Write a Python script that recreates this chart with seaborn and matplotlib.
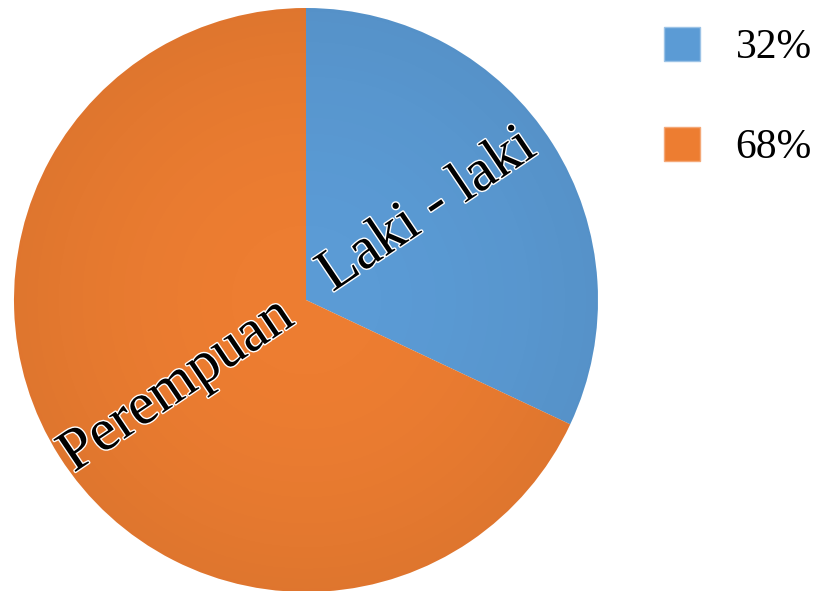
import numpy as np
import matplotlib
matplotlib.use("Agg")
import matplotlib.pyplot as plt
import matplotlib.patheffects as pe
from matplotlib.patches import Patch, Circle
import seaborn as sns

# --- data ---
categories = ["Laki - laki", "Perempuan"]
shares = [32, 68]
legend_labels = ["32%", "68%"]
colors = ["#5B9BD5", "#ED7D31"]

sns.set_theme(style="white")
plt.rcParams["font.family"] = "Liberation Serif"
plt.rcParams["text.color"] = "black"

fig = plt.figure(figsize=(8.19, 5.91), dpi=100)
ax = fig.add_axes([14 / 819, -1 / 591, 584 / 819, 584 / 591])

wedges, _ = ax.pie(shares, colors=colors, startangle=90, counterclock=False,
                   wedgeprops=dict(linewidth=0), radius=1.0)
ax.set_aspect("equal")
ax.set_xlim(-1, 1)
ax.set_ylim(-1, 1)

# soft radial shading, darker toward the rim
yy, xx = np.mgrid[-1:1:400j, -1:1:400j]
rr = np.sqrt(xx ** 2 + yy ** 2)
shade = np.zeros((400, 400, 4))
shade[..., 3] = np.clip(rr, 0, 1) ** 2 * 0.06
img = ax.imshow(shade, extent=(-1, 1, -1, 1), origin="lower", zorder=3)
img.set_clip_path(Circle((0, 0), 1.0, transform=ax.transData))

# slice labels (rotated, with white glow)
glow = [pe.withStroke(linewidth=2, foreground="white")]
label_pos = [(0.418, 0.305), (-0.44, -0.295)]
for name, (lx, ly) in zip(categories, label_pos):
    ax.text(lx, ly, name, fontsize=43, rotation=34, ha="center", va="center",
            rotation_mode="anchor", color="black", family="Liberation Serif",
            path_effects=glow, zorder=5)

ax.axis("off")

handles = [Patch(facecolor=c, edgecolor="#9cc3e6" if i == 0 else "#f4a877", linewidth=1)
           for i, c in enumerate(colors)]
fig.legend(handles, legend_labels, loc="upper left", bbox_to_anchor=(664 / 819, 1 - 27 / 591),
           frameon=False, handlelength=0.86, handleheight=0.86,
           handletextpad=0.86, labelspacing=1.44, borderpad=0, borderaxespad=0,
           prop={"family": "Liberation Serif", "size": 30})

fig.savefig("out.png", dpi=100)
